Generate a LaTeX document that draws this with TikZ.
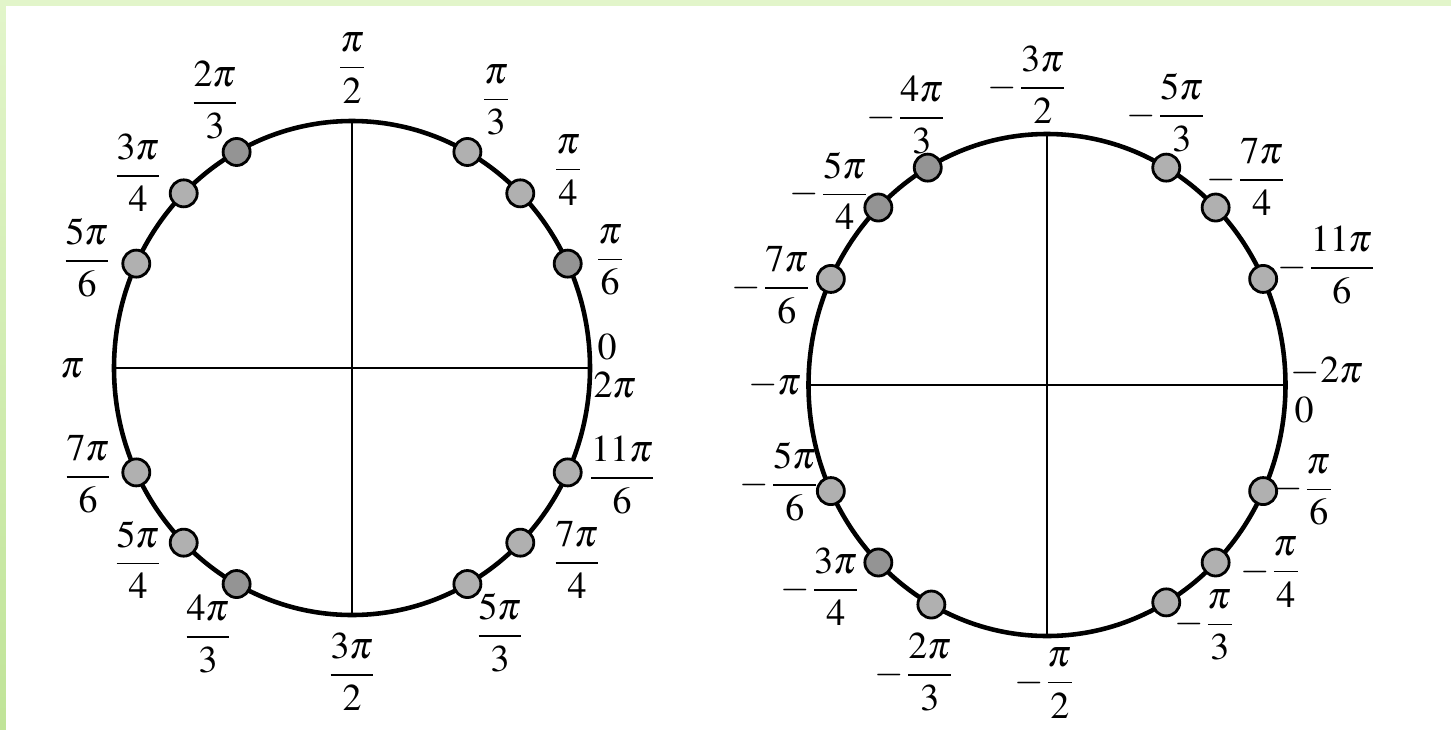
\documentclass[tikz,border=0pt]{standalone}
\usepackage{amsmath}
\usepackage{mathptmx}
\usetikzlibrary{calc}

\definecolor{frameL}{RGB}{226,245,202}
\definecolor{frameD}{RGB}{192,228,152}

\begin{document}
\begin{tikzpicture}[
    rim/.style={line width=1.3pt},
    axis/.style={line width=0.75pt},
    dot/.style={circle, draw=black, line width=0.8pt, fill=black!31,
                minimum size=0.27cm, inner sep=0pt},
    dotdark/.style={dot, fill=black!42},
    lbl/.style={font=\fontsize{10.8}{13}\selectfont, inner sep=1pt}
]
        % ===== FRAME =====
        \useasboundingbox (0,0) rectangle (14.51,7.29);
        \fill[frameL] (0,0) rectangle (14.51,7.29);
        \shade[top color=frameL, bottom color=frameD] (0,0) rectangle (0.06,7.29);
        \fill[white] (0.06,0) rectangle (14.51,7.23);

        % ===== LEFT CIRCLE (positive angles) =====
        \coordinate (L)  at (3.52,3.61);
        \coordinate (Lw) at (1.14,3.61);
        \coordinate (Le) at (5.90,3.61);
        \coordinate (Ln) at (3.52,6.08);
        \coordinate (Ls) at (3.52,1.14);
        \draw[axis] (Lw) -- (Le);
        \draw[axis] (Ln) -- (Ls);
        \draw[rim] (L) ellipse (2.38 and 2.47);

        % points on the circle (placed as in the original print)
        \foreach \a/\s in {25/dotdark, 45/dot, 61/dot, 119/dotdark, 135/dot, 155/dot,
                           205/dot, 225/dot, 241/dotdark, 299/dot, 315/dot, 335/dot}
            \node[\s] (ld\a) at ($(L)+(\a:2.38 and 2.47)$) {};

        % labels
        \node[lbl] (lpi2)   at (3.52,6.61) {$\dfrac{\pi}{2}$};
        \node[lbl] (lpi3)   at (4.96,6.29) {$\dfrac{\pi}{3}$};
        \node[lbl] (lpi4)   at (5.68,5.59) {$\dfrac{\pi}{4}$};
        \node[lbl] (lpi6)   at (6.10,4.69) {$\dfrac{\pi}{6}$};
        \node[lbl] (lzero)  at (6.07,3.82) {$0$};
        \node[lbl] (ltwopi) at (6.15,3.44) {$2\pi$};
        \node[lbl] (l11pi6) at (6.22,2.54) {$\dfrac{11\pi}{6}$};
        \node[lbl] (l7pi4)  at (5.77,1.69) {$\dfrac{7\pi}{4}$};
        \node[lbl] (l5pi3)  at (5.00,0.96) {$\dfrac{5\pi}{3}$};
        \node[lbl] (l3pi2)  at (3.52,0.57) {$\dfrac{3\pi}{2}$};
        \node[lbl] (l4pi3)  at (2.08,0.95) {$\dfrac{4\pi}{3}$};
        \node[lbl] (l5pi4)  at (1.38,1.69) {$\dfrac{5\pi}{4}$};
        \node[lbl] (l7pi6)  at (0.88,2.55) {$\dfrac{7\pi}{6}$};
        \node[lbl] (lpi)    at (0.72,3.61) {$\pi$};
        \node[lbl] (l5pi6)  at (0.87,4.71) {$\dfrac{5\pi}{6}$};
        \node[lbl] (l3pi4)  at (1.38,5.56) {$\dfrac{3\pi}{4}$};
        \node[lbl] (l2pi3)  at (2.15,6.29) {$\dfrac{2\pi}{3}$};

        % ===== RIGHT CIRCLE (negative angles) =====
        \coordinate (R)  at (10.47,3.44);
        \coordinate (Rw) at (8.085,3.44);
        \coordinate (Re) at (12.855,3.44);
        \coordinate (Rn) at (10.47,5.95);
        \coordinate (Rs) at (10.47,0.93);
        \draw[axis] (Rw) -- (Re);
        \draw[axis] (Rn) -- (Rs);
        \draw[rim] (R) ellipse (2.385 and 2.51);

        % points on the circle
        \foreach \a/\s in {25/dot, 45/dot, 60/dot, 120/dotdark, 135/dotdark, 155/dot,
                           205/dot, 225/dotdark, 241/dot, 300/dot, 315/dot, 335/dot}
            \node[\s] (rd\a) at ($(R)+(\a:2.385 and 2.51)$) {};

        % labels
        \node[lbl] (r3pi2)  at (10.28,6.44) {$-\dfrac{3\pi}{2}$};
        \node[lbl] (r5pi3)  at (11.67,6.16) {$-\dfrac{5\pi}{3}$};
        \node[lbl] (r7pi4)  at (12.47,5.52) {$-\dfrac{7\pi}{4}$};
        \node[lbl] (r11pi6) at (13.27,4.64) {$-\dfrac{11\pi}{6}$};
        \node[lbl] (rtwopi) at (13.27,3.58) {$-2\pi$};
        \node[lbl] (rzero)  at (13.04,3.19) {$0$};
        \node[lbl] (rpi6)   at (13.04,2.39) {$-\dfrac{\pi}{6}$};
        \node[lbl] (rpi4)   at (12.71,1.57) {$-\dfrac{\pi}{4}$};
        \node[lbl] (rpi3)   at (12.05,1.04) {$-\dfrac{\pi}{3}$};
        \node[lbl] (rpi2)   at (10.45,0.46) {$-\dfrac{\pi}{2}$};
        \node[lbl] (r2pi3)  at (9.15,0.57)  {$-\dfrac{2\pi}{3}$};
        \node[lbl] (r3pi4)  at (8.21,1.42)  {$-\dfrac{3\pi}{4}$};
        \node[lbl] (r5pi6)  at (7.80,2.47)  {$-\dfrac{5\pi}{6}$};
        \node[lbl] (rpi)    at (7.75,3.44)  {$-\pi$};
        \node[lbl] (r7pi6)  at (7.72,4.44)  {$-\dfrac{7\pi}{6}$};
        \node[lbl] (r5pi4)  at (8.30,5.38)  {$-\dfrac{5\pi}{4}$};
        \node[lbl] (r4pi3)  at (9.07,6.14)  {$-\dfrac{4\pi}{3}$};

\end{tikzpicture}
\end{document}
